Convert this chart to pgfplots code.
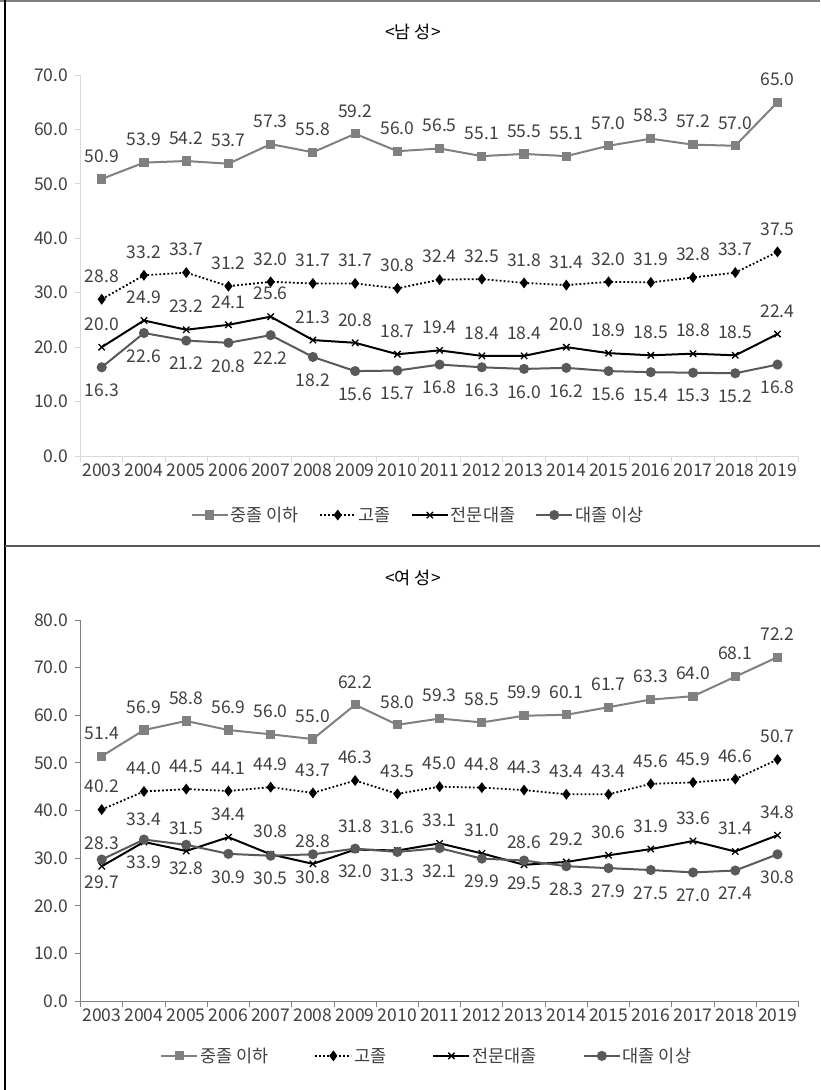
\documentclass[border=0pt]{standalone}
\usepackage{fontspec}
\setmainfont{Noto Sans CJK KR}
\usepackage{pgfplots}
\pgfplotsset{compat=1.18}

\definecolor{sone}{HTML}{808080}
\definecolor{sfour}{HTML}{595959}
\definecolor{txt}{HTML}{404040}
\definecolor{axc}{HTML}{D9D9D9}
\definecolor{axd}{HTML}{808080}
\newcommand\fs{\fontsize{17.5}{20}\selectfont}

\pgfplotsset{
  panel/.style={
    scale only axis, width=718pt, height=381pt,
    xmin=-0.5, xmax=16.5, ymin=0,
    axis x line*=bottom, axis y line*=left,
    axis line style={line width=1pt},
    xtick={0,...,16},
    xticklabels={2003,2004,2005,2006,2007,2008,2009,2010,2011,2012,2013,2014,2015,2016,2017,2018,2019},
    major x tick style={draw=none},
    minor xtick={-0.5,0.5,...,16.5},
    minor tick length=6pt,
    major tick length=6pt,
    tick align=outside,
    ticklabel style={font=\fs, text=txt},
    xticklabel style={yshift=2pt},
    yticklabel style={xshift=-3pt},
    y tick label style={/pgf/number format/.cd, fixed, fixed zerofill, precision=1, assume math mode=true},
    legend cell align=left,
    legend style={draw=none, fill=none, font=\fs, text=txt, legend columns=4, anchor=center,
      nodes={inner sep=2pt}},
    legend image code/.code={\draw[mark repeat=2,mark phase=2] plot coordinates {(0pt,0pt)(18pt,0pt)(36pt,0pt)};},
    nodes near coords={\pgfmathprintnumber[fixed,fixed zerofill,precision=1,assume math mode=true]{\pgfplotspointmeta}},
    every node near coord/.style={font=\fs, text=txt, anchor=center},
    clip=false,
  },
  up/.style={every node near coord/.append style={yshift=23pt}},
  down/.style={every node near coord/.append style={yshift=-23pt}},
  sA/.style={color=sone, line width=2pt, mark=square*, mark size=3.6pt, mark options={solid}},
  sB/.style={color=black, line width=1.8pt, dash pattern=on 1.8pt off 2.2pt, mark=diamond*, mark size=4pt, mark options={solid}},
  sC/.style={color=black, line width=2pt, mark=x, mark size=4.5pt, mark options={solid, line width=1.3pt}},
  sD/.style={color=sfour, line width=2pt, mark=*, mark size=4pt, mark options={solid}},
}

\begin{document}
\begin{tikzpicture}
\useasboundingbox (0,0) rectangle (820pt,-1090pt);
\fill[white] (0,0) rectangle (820pt,-1090pt);
\draw[color=axd, line width=1.5pt] (0,-1pt) -- (820pt,-1pt);
\draw[black, line width=1.5pt] (5pt,0) -- (5pt,-1090pt);
\draw[color=sfour, line width=2pt] (5pt,-546pt) -- (820pt,-546pt);

\node[font=\fs, text=black] at (413pt,-32pt) {<남 성>};
\node[font=\fs, text=black] at (413pt,-578pt) {<여 성>};

% ---------- top: men
\begin{axis}[panel, at={(80.6pt,-456pt)}, anchor=south west,
  ymax=70, ytick={0,10,...,70},
  axis line style={draw=axc}, ytick style={draw=axc, line width=1pt},
  minor x tick style={draw=axc, line width=1pt},
  legend style={at={(axis description cs:0.470,-0.155)}, /tikz/every even column/.append style={column sep=18pt}},
]
\addplot[sA, up] coordinates {(0,50.9)(1,53.9)(2,54.2)(3,53.7)(4,57.3)(5,55.8)(6,59.2)(7,56.0)(8,56.5)(9,55.1)(10,55.5)(11,55.1)(12,57.0)(13,58.3)(14,57.2)(15,57.0)(16,65.0)};
\addlegendentry{중졸 이하}
\addplot[sB, up] coordinates {(0,28.8)(1,33.2)(2,33.7)(3,31.2)(4,32.0)(5,31.7)(6,31.7)(7,30.8)(8,32.4)(9,32.5)(10,31.8)(11,31.4)(12,32.0)(13,31.9)(14,32.8)(15,33.7)(16,37.5)};
\addlegendentry{고졸}
\addplot[sC, up] coordinates {(0,20.0)(1,24.9)(2,23.2)(3,24.1)(4,25.6)(5,21.3)(6,20.8)(7,18.7)(8,19.4)(9,18.4)(10,18.4)(11,20.0)(12,18.9)(13,18.5)(14,18.8)(15,18.5)(16,22.4)};
\addlegendentry{전문대졸}
\addplot[sD, down] coordinates {(0,16.3)(1,22.6)(2,21.2)(3,20.8)(4,22.2)(5,18.2)(6,15.6)(7,15.7)(8,16.8)(9,16.3)(10,16.0)(11,16.2)(12,15.6)(13,15.4)(14,15.3)(15,15.2)(16,16.8)};
\addlegendentry{대졸 이상}
\end{axis}

% ---------- bottom: women
\begin{axis}[panel, at={(80.6pt,-1001pt)}, anchor=south west,
  ymax=80, ytick={0,10,...,80},
  axis line style={draw=axd}, ytick style={draw=axd, line width=1pt},
  minor x tick style={draw=axd, line width=1pt},
  legend style={at={(axis description cs:0.482,-0.144)}, /tikz/every even column/.append style={column sep=44pt}},
]
\addplot[sA, up] coordinates {(0,51.4)(1,56.9)(2,58.8)(3,56.9)(4,56.0)(5,55.0)(6,62.2)(7,58.0)(8,59.3)(9,58.5)(10,59.9)(11,60.1)(12,61.7)(13,63.3)(14,64.0)(15,68.1)(16,72.2)};
\addlegendentry{중졸 이하}
\addplot[sB, up] coordinates {(0,40.2)(1,44.0)(2,44.5)(3,44.1)(4,44.9)(5,43.7)(6,46.3)(7,43.5)(8,45.0)(9,44.8)(10,44.3)(11,43.4)(12,43.4)(13,45.6)(14,45.9)(15,46.6)(16,50.7)};
\addlegendentry{고졸}
\addplot[sC, up] coordinates {(0,28.3)(1,33.4)(2,31.5)(3,34.4)(4,30.8)(5,28.8)(6,31.8)(7,31.6)(8,33.1)(9,31.0)(10,28.6)(11,29.2)(12,30.6)(13,31.9)(14,33.6)(15,31.4)(16,34.8)};
\addlegendentry{전문대졸}
\addplot[sD, down] coordinates {(0,29.7)(1,33.9)(2,32.8)(3,30.9)(4,30.5)(5,30.8)(6,32.0)(7,31.3)(8,32.1)(9,29.9)(10,29.5)(11,28.3)(12,27.9)(13,27.5)(14,27.0)(15,27.4)(16,30.8)};
\addlegendentry{대졸 이상}
\end{axis}
\end{tikzpicture}
\end{document}
